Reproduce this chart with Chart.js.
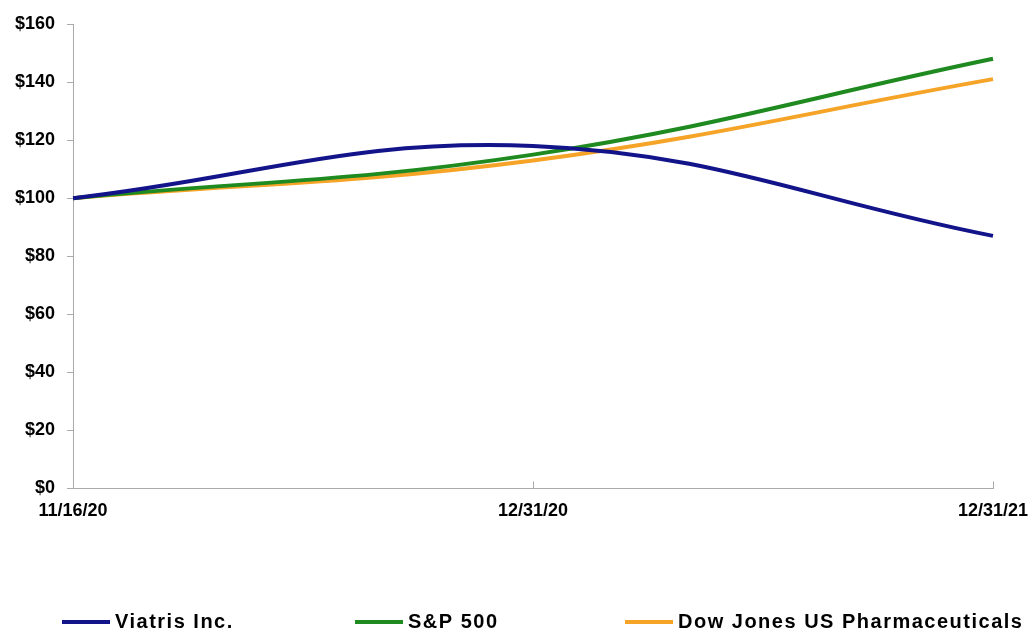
<!DOCTYPE html>
<html>
<head>
<meta charset="utf-8">
<script src="https://cdn.jsdelivr.net/npm/chart.js@4"></script>
<style>
  html, body { margin: 0; padding: 0; background: #fff; }
  #wrap { width: 1033px; height: 632px; }
</style>
</head>
<body>
<div id="wrap"><canvas id="chart"></canvas></div>
<script>
'use strict';

const dates = ['11/16/20', '12/31/20', '12/31/21'];
const viatris = [100, 118, 87];
const sp500 = [100, 115, 148];
const djPharma = [100, 113, 141];

const FONT = "'Liberation Sans', Arial, sans-serif";

// legend is spread across the bottom like the original, so it is drawn by hand
const legendX = [62, 355, 625];
const legendY = 622;

const spreadLegend = {
  id: 'spreadLegend',
  afterDraw(chart) {
    const ctx = chart.ctx;
    ctx.save();
    ctx.font = `bold 20px ${FONT}`;
    ctx.letterSpacing = '1.5px';
    ctx.textBaseline = 'middle';
    chart.data.datasets.forEach((ds, i) => {
      const x = legendX[i];
      ctx.fillStyle = ds.borderColor;
      ctx.fillRect(x, legendY - 2, 48, 4);
      ctx.fillStyle = '#000';
      ctx.fillText(ds.label, x + 53, legendY);
    });
    ctx.restore();
  }
};

const line = (label, data, color) => ({
  label, data,
  borderColor: color,
  backgroundColor: color,
  borderWidth: 4,
  pointRadius: 0,
  tension: 0.4,
  fill: false
});

new Chart(document.getElementById('chart').getContext('2d'), {
  type: 'line',
  data: {
    labels: dates,
    datasets: [
      line('Viatris Inc.', viatris, '#14148a'),
      line('S&P 500', sp500, '#1f8a1f'),
      line('Dow Jones US Pharmaceuticals', djPharma, '#f5a428')
    ]
  },
  plugins: [spreadLegend],
  options: {
    responsive: true,
    maintainAspectRatio: false,
    animation: false,
    layout: { padding: { top: 24, right: 0, left: 3, bottom: 91 } },
    plugins: {
      tooltip: { enabled: false },
      legend: { display: false }
    },
    scales: {
      x: {
        offset: false,
        // the large label padding would otherwise widen the right margin
        afterFit: scale => { scale.paddingRight = 40; },
        border: { color: '#aaa', width: 1 },
        grid: { drawOnChartArea: false, color: '#aaa', tickLength: -7 },
        ticks: {
          color: '#000',
          maxRotation: 0,
          padding: 19,
          font: { family: FONT, size: 18, weight: 'bold' }
        }
      },
      y: {
        min: 0,
        max: 160,
        border: { color: '#aaa', width: 1 },
        grid: { drawOnChartArea: false, color: '#aaa', tickLength: 6 },
        ticks: {
          stepSize: 20,
          color: '#000',
          padding: 12,
          font: { family: FONT, size: 18, weight: 'bold' },
          callback: v => '$' + v
        }
      }
    }
  }
});
</script>
</body>
</html>
